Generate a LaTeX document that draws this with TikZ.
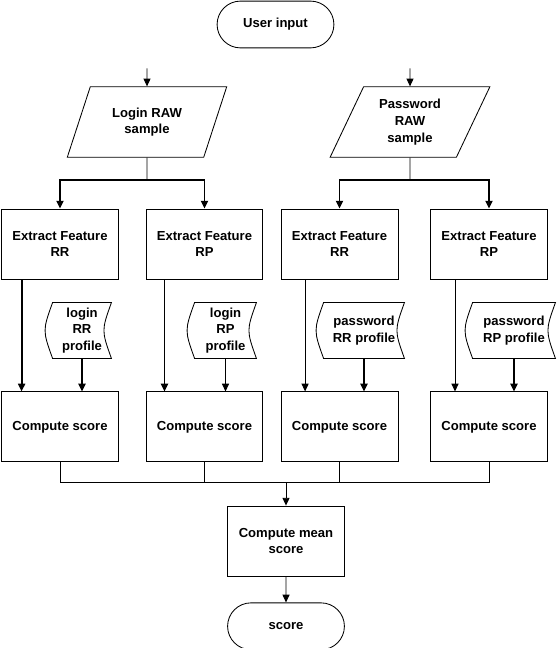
\documentclass[tikz,border=0pt]{standalone}
\usepackage{fontspec}
\setmainfont{Liberation Sans}
\usetikzlibrary{arrows.meta, positioning, shapes.geometric, shapes.misc}

\begin{document}
\begin{tikzpicture}[
    x=0.025cm, y=-0.025cm,
    line width=0.6pt,
    every node/.style={font=\fontsize{9.3}{11.9}\selectfont\bfseries, align=center},
    bloc/.style={draw, minimum width=2.92cm, minimum height=1.75cm, inner sep=0pt},
    capat/.style={draw, rounded rectangle, minimum width=2.92cm, minimum height=1.17cm, inner sep=0pt},
    intrare/.style={draw, trapezium, trapezium left angle=64, trapezium right angle=116,
                    trapezium stretches=true, minimum width=4cm, minimum height=1.76cm, inner sep=0pt},
    profil/.style={minimum height=1.375cm, inner sep=0pt},
    sageata/.style={-{Triangle[length=5.5pt, width=5pt]}},
    gros/.style={line width=1.3pt}
]
\useasboundingbox (0,0) rectangle (558,648);

% start
\node[capat] (ui) at (275.5,24.5) {User input};
\node[intrare] (in1) at (147,122) {Login RAW\\sample};
\node[intrare] (in2) at (410,122) {Password\\RAW\\sample};

% feature extraction
\node[bloc] (ef1) at (60,244) {Extract Feature\\RR};
\node[bloc] (ef2) at (204.5,244) {Extract Feature\\RP};
\node[bloc] (ef3) at (339.5,244) {Extract Feature\\RR};
\node[bloc] (ef4) at (489,244) {Extract Feature\\RP};

% stored profiles
\node[profil, minimum width=1.45cm] (p1) at (82,330.5) {login\\RR\\profile};
\node[profil, minimum width=1.525cm] (p2) at (225.5,330.5) {login\\RP\\profile};
\node[profil, minimum width=2cm] (p3) at (364,330.5) {password\\RR profile};
\node[profil, minimum width=2.05cm] (p4) at (514,330.5) {password\\RP profile};
\foreach \d in {p1,p2,p3,p4}
    \draw (\d.north west) .. controls ([xshift=-0.25cm]\d.west) .. (\d.south west)
          -- (\d.south east) .. controls ([xshift=-0.25cm]\d.east) .. (\d.north east) -- cycle;

% scores
\node[bloc, below=2.8cm of ef1] (cs1) {Compute score};
\node[bloc, below=2.8cm of ef2] (cs2) {Compute score};
\node[bloc, below=2.8cm of ef3] (cs3) {Compute score};
\node[bloc, below=2.8cm of ef4] (cs4) {Compute score};
\node[bloc] (cm) at (286,541) {Compute mean\\score};
\node[capat, below=0.65cm of cm] (sc) {score};

\coordinate[above=0.45cm of in1] (a1);
\coordinate[above=0.45cm of in2] (a2);
\coordinate[below=0.55cm of in1] (b1);
\coordinate[below=0.55cm of in2] (b2);
\coordinate[above=0.575cm of cm] (m);

\draw[sageata] (a1) -- (in1);
\draw[sageata] (a2) -- (in2);
\draw (in1) -- (b1);
\draw (in2) -- (b2);
\draw[sageata, gros] (b1) -| (ef1);
\draw[sageata, gros] (b1) -| (ef2);
\draw[sageata, gros] (b2) -| (ef3);
\draw[sageata, gros] (b2) -| (ef4);

\draw[sageata, gros] ([xshift=-0.96cm]ef1.south) -- ([xshift=-0.96cm]cs1.north);
\draw[sageata, gros] ([xshift=-1cm]ef2.south) -- ([xshift=-1cm]cs2.north);
\draw[sageata] ([xshift=-0.86cm]ef3.south) -- ([xshift=-0.86cm]cs3.north);
\draw[sageata] ([xshift=-0.85cm]ef4.south) -- ([xshift=-0.85cm]cs4.north);
\draw[sageata, gros] (p1) -- (p1 |- cs1.north);
\draw[sageata] (p2) -- (p2 |- cs2.north);
\draw[sageata, gros] (p3) -- (p3 |- cs3.north);
\draw[sageata, gros] (p4) -- (p4 |- cs4.north);

\draw (cs1) |- (m);
\draw (cs2) |- (m);
\draw (cs3) |- (m);
\draw (cs4) |- (m);
\draw[sageata] (m) -- (cm);
\draw[sageata] (cm) -- (sc);
\end{tikzpicture}
\end{document}
